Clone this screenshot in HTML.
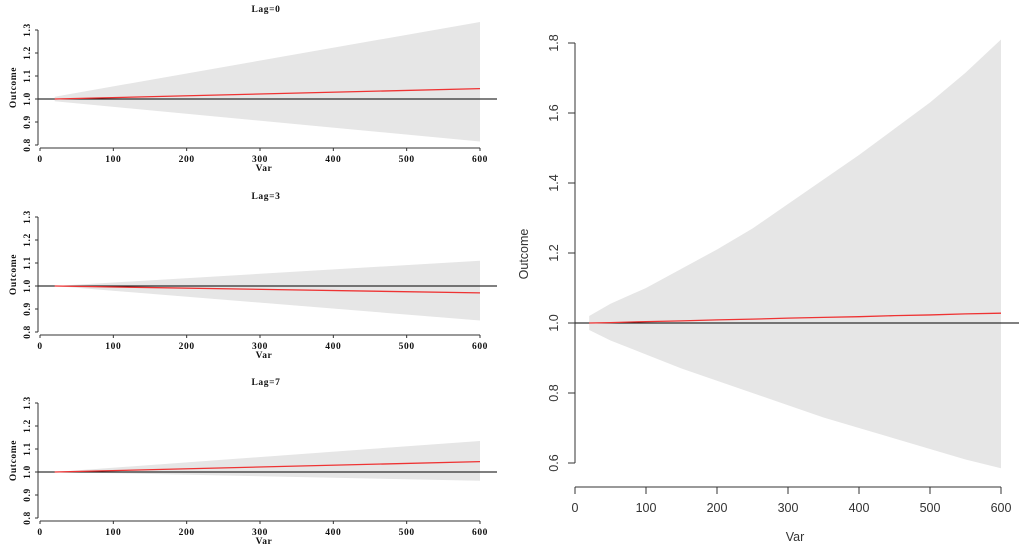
<!DOCTYPE html>
<html><head><meta charset="utf-8"><style>
body{margin:0;background:#fff;width:1024px;height:551px;overflow:hidden}
svg{display:block}
.s{font-family:"Liberation Serif",serif;font-weight:bold;font-size:9.5px;letter-spacing:0.6px;fill:#111}
.r{font-family:"Liberation Sans",sans-serif;font-size:12.5px;fill:#333}
</style></head><body>
<svg id="c" width="1024" height="551"></svg>
<script>
// Small panels (Lag=0,3,7): values at x = 20 and 600
const lagTitles = ["Lag=0","Lag=3","Lag=7"];
const lagX = [20, 600];
const lagUpper = [[1.01,1.335],[1.0,1.11],[1.0,1.135]];
const lagLower = [[0.99,0.815],[1.0,0.85],[1.0,0.962]];
const lagMean = [[1.0,1.045],[1.0,0.97],[1.0,1.045]];
const smallYTicks = [0.8,0.9,1.0,1.1,1.2,1.3];
const xTicks = [0,100,200,300,400,500,600];
// Big panel
const bigX = [20,50,100,150,200,250,300,350,400,450,500,550,600];
const bigUpper = [1.02,1.055,1.10,1.155,1.21,1.27,1.34,1.41,1.48,1.555,1.63,1.715,1.81];
const bigLower = [0.98,0.95,0.91,0.87,0.835,0.80,0.765,0.73,0.70,0.67,0.64,0.61,0.585];
const bigMean = [1.0,1.001,1.004,1.006,1.009,1.011,1.014,1.016,1.018,1.021,1.023,1.026,1.028];
const bigYTicks = [0.6,0.8,1.0,1.2,1.4,1.6,1.8];

const svg=document.getElementById('c');
const NS="http://www.w3.org/2000/svg";
function mk(t,a,txt){const e=document.createElementNS(NS,t);for(const k in a)e.setAttribute(k,a[k]);if(txt!==undefined)e.textContent=txt;svg.appendChild(e);return e;}

const panelTops=[30,217,403];
panelTops.forEach((top,i)=>{
  const bot=top+115;
  const sx=v=>40+(v/600)*440;
  const sy=v=>bot-(v-0.8)/0.5*115;
  let pts=lagX.map((x,j)=>sx(x)+','+sy(lagUpper[i][j])).concat(lagX.slice().reverse().map((x,j)=>sx(x)+','+sy(lagLower[i][lagX.length-1-j])));
  let e=mk('polygon',{points:pts.join(' '),fill:'#e6e6e6'});
  
  e=mk('line',{x1:38,x2:497,y1:sy(1),y2:sy(1),stroke:'#000','stroke-width':1});
  
  e=mk('polyline',{points:lagX.map((x,j)=>sx(x)+','+sy(lagMean[i][j])).join(' '),fill:'none',stroke:'#e33','stroke-width':1.3});
  
  mk('line',{x1:38,x2:38,y1:sy(1.3),y2:sy(0.8),stroke:'#333'});
  smallYTicks.forEach(t=>{mk('line',{x1:35,x2:38,y1:sy(t),y2:sy(t),stroke:'#333'});
    e=mk('text',{class:'s',x:0,y:0,'text-anchor':'middle',transform:`translate(30,${sy(t)}) rotate(-90)`},t.toFixed(1));
    });
  const ay=bot+3;
  mk('line',{x1:sx(0),x2:sx(600),y1:ay,y2:ay,stroke:'#333'});
  xTicks.forEach(t=>{mk('line',{x1:sx(t),x2:sx(t),y1:ay,y2:ay+3,stroke:'#333'});
    e=mk('text',{class:'s',x:sx(t),y:ay+14,'text-anchor':'middle'},t);
    });
  e=mk('text',{class:'s',x:264,y:ay+23,'text-anchor':'middle','font-size':'10.5'},'Var');
  
  e=mk('text',{class:'s',x:0,y:0,'text-anchor':'middle','font-size':'11',transform:`translate(16,${sy(1.05)}) rotate(-90)`},'Outcome');
  
  e=mk('text',{class:'s',x:266,y:top-18,'text-anchor':'middle'},lagTitles[i]);
  
});

const bx=v=>575+(v/600)*426;
const by=v=>463-(v-0.6)/1.2*420;
let e=mk('polygon',{points:bigX.map((x,j)=>bx(x)+','+by(bigUpper[j])).concat(bigX.map((x,j)=>bx(x)+','+by(bigLower[j])).reverse()).join(' '),fill:'#e6e6e6'});

e=mk('line',{x1:573,x2:1019,y1:by(1),y2:by(1),stroke:'#000','stroke-width':1});

e=mk('polyline',{points:bigX.map((x,j)=>bx(x)+','+by(bigMean[j])).join(' '),fill:'none',stroke:'#e33','stroke-width':1.3});

mk('line',{x1:575,x2:575,y1:by(1.8),y2:by(0.6),stroke:'#333'});
bigYTicks.forEach(t=>{mk('line',{x1:568,x2:575,y1:by(t),y2:by(t),stroke:'#333'});
  e=mk('text',{class:'r',x:0,y:0,'text-anchor':'middle',transform:`translate(558,${by(t)}) rotate(-90)`},t.toFixed(1));
  });
mk('line',{x1:bx(0),x2:bx(600),y1:487,y2:487,stroke:'#333'});
xTicks.forEach(t=>{mk('line',{x1:bx(t),x2:bx(t),y1:487,y2:494,stroke:'#333'});
  e=mk('text',{class:'r',x:bx(t),y:512,'text-anchor':'middle'},t);
  });
e=mk('text',{class:'r',x:795,y:541,'text-anchor':'middle'},'Var');

e=mk('text',{class:'r',x:0,y:0,'text-anchor':'middle',transform:`translate(528,254) rotate(-90)`},'Outcome');

</script>
</body></html>
